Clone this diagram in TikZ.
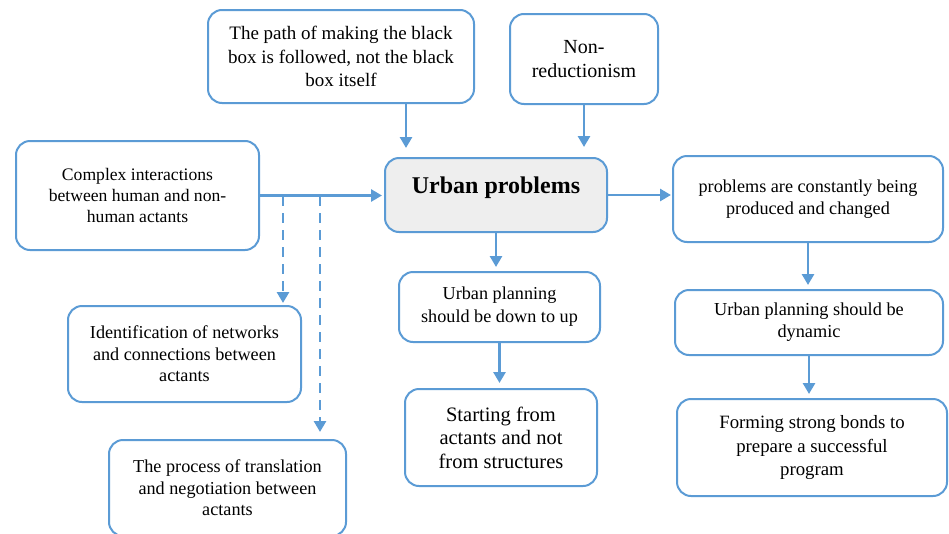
\documentclass[tikz,border=0pt]{standalone}
\usepackage{fontspec}
\setmainfont{Liberation Serif}
\usetikzlibrary{arrows.meta,calc}
\definecolor{boxblue}{HTML}{5B9BD5}
\definecolor{boxgray}{HTML}{EEEEEE}

\begin{document}
\begin{tikzpicture}[x=1pt,y=-1pt]
\tikzset{box/.style = {draw=boxblue, line width=2pt, rounded corners=14pt, fill=white,
  align=center, inner sep=0pt, font=\fontsize{18.2}{21.5}\selectfont}}
\tikzset{bigbox/.style = {box, font=\fontsize{18.8}{23.5}\selectfont}}
\tikzset{arrow/.style = {draw=boxblue, line width=2.8pt, -{Triangle[length=11pt,width=12pt]}}}
\tikzset{dasharrow/.style = {arrow, dash pattern=on 10pt off 7pt}}
\useasboundingbox (0,0) rectangle (949,533);
\clip (0,0) rectangle (949,533);
\node[box, minimum width=266pt, minimum height=93pt, font=\fontsize{19}{23.5}\selectfont](blackbox) at (341,56.5) {The path of making the black\\box is followed, not the black\\box itself};
\node[box, minimum width=148pt, minimum height=90pt, font=\fontsize{20}{24}\selectfont](nonred) at (584,59) {Non-\\reductionism};
\node[box, minimum width=243pt, minimum height=109pt, font=\fontsize{17.6}{21}\selectfont](complex) at (137.5,195.5) {Complex interactions\\between human and non-\\human actants};
\node[box, fill=boxgray, minimum width=222pt, minimum height=74pt, font=\fontsize{24}{28}\selectfont\bfseries, text height=17pt, text depth=21pt](urban) at (496,195) {Urban problems};
\node[box, minimum width=270pt, minimum height=86pt, font=\fontsize{18.2}{22}\selectfont](produced) at (808,199) {problems are constantly being\\produced and changed};
\node[box, minimum width=201pt, minimum height=70pt, font=\fontsize{18.2}{23}\selectfont](downup) at (499.5,307) {Urban planning\\should be down to up};
\node[box, minimum width=268pt, minimum height=65pt, font=\fontsize{18.3}{22}\selectfont](dynamic) at (809,322.5) {Urban planning should be\\dynamic};
\node[box, minimum width=192pt, minimum height=97pt, font=\fontsize{20.5}{23.5}\selectfont](starting) at (501,437.5) {Starting from\\actants and not\\from structures};
\node[bigbox, minimum width=270pt, minimum height=97pt](bonds) at (812,447.5) {Forming strong bonds to\\prepare a successful\\program};
\node[box, minimum width=233pt, minimum height=96pt](ident) at (184.5,354) {Identification of networks\\and connections between\\actants};
\node[box, minimum width=237pt, minimum height=96pt](transl) at (227.5,488) {The process of translation\\and negotiation between\\actants};
% arrows into the main box
\coordinate (b1) at (406,148);
\draw[arrow] (b1 |- blackbox.south) -- (b1);
\draw[arrow, shorten >=10pt] (nonred.south) -- (nonred.south |- urban.north);
\draw[arrow, shorten >=2pt] (complex.east) -- (complex.east -| urban.west);
% dashed branches
\coordinate (d1) at (283,196);
\coordinate (d2) at (320,196);
\draw[dasharrow, shorten >=2pt] (d1) -- (d1 |- ident.north);
\draw[dasharrow, shorten >=7pt] (d2) -- (d2 |- transl.north);
% arrows out of the main box
\draw[arrow, shorten >=1pt] (urban.east) -- (urban.east -| produced.west);
\draw[arrow, shorten >=4pt] (urban.south) -- (urban.south |- downup.north);
\draw[arrow, shorten >=5pt] (downup.south) -- (downup.south |- starting.north);
\draw[arrow, shorten >=4pt] (produced.south) -- (produced.south |- dynamic.north);
\draw[arrow, shorten >=4pt] (dynamic.south) -- (dynamic.south |- bonds.north);
\end{tikzpicture}
\end{document}
